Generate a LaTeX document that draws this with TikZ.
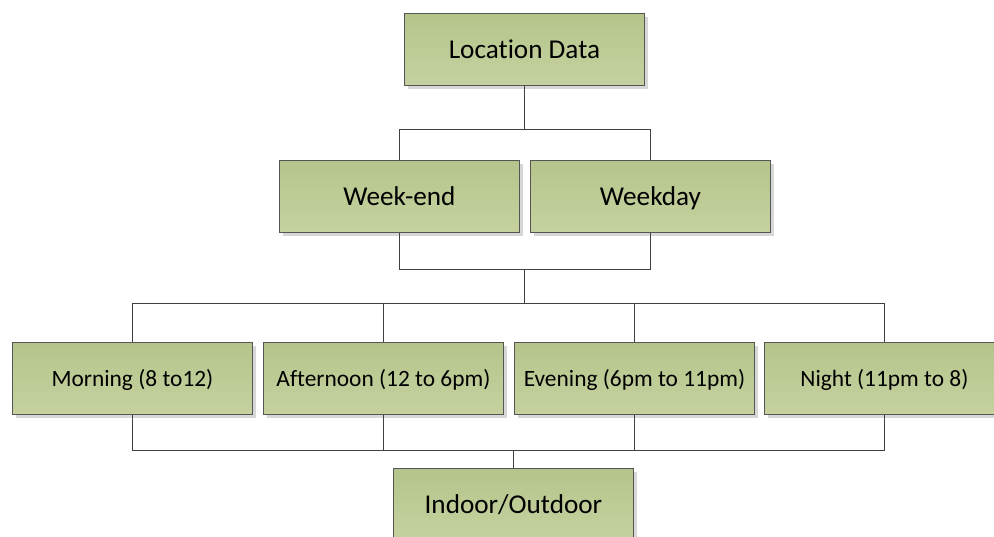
\documentclass[tikz,border=0pt]{standalone}
\usepackage{fontspec}
\setmainfont{Carlito}[Ligatures={NoCommon}]
\usetikzlibrary{shadows}
\definecolor{gtop}{RGB}{181,196,139}
\definecolor{gbot}{RGB}{197,210,160}
\definecolor{boxline}{RGB}{85,85,85}
\definecolor{connline}{RGB}{64,64,64}
\definecolor{shadowc}{RGB}{215,215,215}
\begin{document}
\begin{tikzpicture}[x=1pt,y=-1pt,
  box/.style={draw=boxline, line width=0.9pt, top color=gtop, bottom color=gbot,
    minimum width=240pt, minimum height=72pt, inner sep=0pt, anchor=north west,
    drop shadow={shadow xshift=3.5pt, shadow yshift=-3.5pt, fill=shadowc, opacity=1}},
  bigtext/.style={font=\fontsize{27.2}{32}\selectfont, text height=17.5pt, text depth=0pt},
  midtext/.style={font=\fontsize{23.4}{28}\selectfont, text height=15.1pt, text depth=0pt},
  conn/.style={draw=connline, line width=1pt}]
\useasboundingbox (0,0) rectangle (994,536);
\clip (0,0) rectangle (994,536);
\node[box,bigtext] (loc) at (404,13) {Location Data};
\node[box,bigtext] (we) at (279,160) {Week-end};
\node[box,bigtext] (wd) at (530,160) {Weekday};
\node[box,midtext] (mo) at (12,342) {Morning (8 to12)};
\node[box,midtext] (af) at (263,342) {Afternoon (12 to 6pm)};
\node[box,midtext] (ev) at (514,342) {Evening (6pm to 11pm)};
\node[box,midtext] (ni) at (764,342) {Night (11pm to 8)};
\node[box,bigtext] (io) at (393,468) {Indoor/Outdoor};
% connectors
\draw[conn] (loc.south) -- ++(0,43);
\draw[conn] (we.north) -- ++(0,-31) -| (wd.north);
\draw[conn] (we.south) -- ++(0,37) coordinate (j2) -| (wd.south);
\draw[conn] (loc.south |- j2) -- ++(0,34);
\draw[conn] (mo.north) -- ++(0,-39) -| (ni.north);
\draw[conn] (af.north) -- ++(0,-39);
\draw[conn] (ev.north) -- ++(0,-39);
\draw[conn] (mo.south) -- ++(0,36) -| (ni.south);
\draw[conn] (af.south) -- ++(0,36);
\draw[conn] (ev.south) -- ++(0,36);
\draw[conn] (io.north) -- ++(0,-18);
\end{tikzpicture}
\end{document}
